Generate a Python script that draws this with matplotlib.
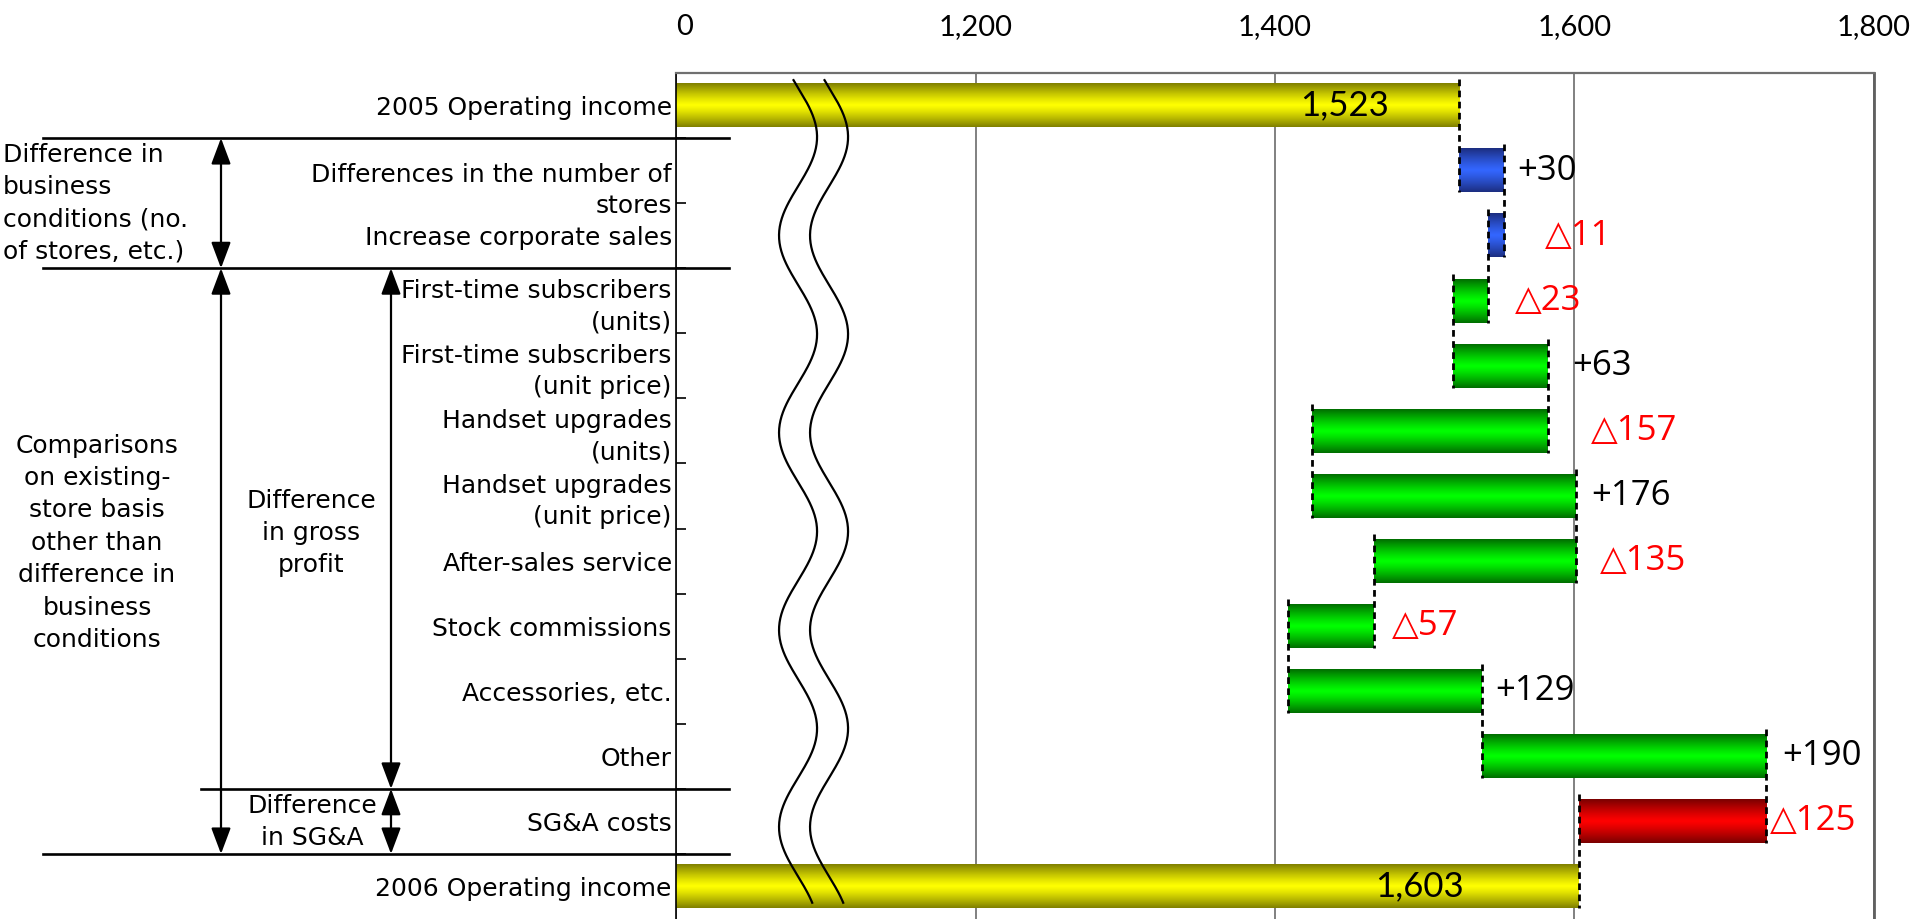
import numpy as np
import matplotlib
matplotlib.use("Agg")
import matplotlib.pyplot as plt
from matplotlib import transforms
from matplotlib.lines import Line2D
from matplotlib.patches import FancyArrowPatch
from matplotlib.colors import to_rgb

# ---------------- data ----------------
categories = [
    "2005 Operating income",
    "Differences in the number of\nstores",
    "Increase corporate sales",
    "First-time subscribers\n(units)",
    "First-time subscribers\n(unit price)",
    "Handset upgrades\n(units)",
    "Handset upgrades\n(unit price)",
    "After-sales service",
    "Stock commissions",
    "Accessories, etc.",
    "Other",
    "SG&A costs",
    "2006 Operating income",
]
start_total = 1523
end_total = 1603
deltas = [30, -11, -23, 63, -157, 176, -135, -57, 129, 190, -125]
delta_groups = ["business", "business", "gross", "gross", "gross", "gross",
                "gross", "gross", "gross", "gross", "sga"]
x_ticks = [1000, 1200, 1400, 1600, 1800]
x_tick_labels = ["0", "1,200", "1,400", "1,600", "1,800"]

# ---------------- style ----------------
W, H = 1911, 919
group_colors = {  # (center, edge)
    "total": ("#ffff00", "#808000"),
    "business": ("#3366ff", "#1c2e80"),
    "gross": ("#00ff00", "#006e00"),
    "sga": ("#ff0000", "#7a0000"),
}
label_gap_px = [13, 41, 27, 25, 43, 15, 24, 18, 14, 16, 4]
total_gap_px = [70, 115]

TEXT_FONT = ["DejaVu Sans"]
NUM_FONT = ["Lato", "DejaVu Sans"]
VAL_FONT = ["Open Sans", "DejaVu Sans"]
TXT_SIZE = 18
LSP_CAT = 1.36
LSP_ANN = 1.44

fig = plt.figure(figsize=(W / 100, H / 100), dpi=100)
ax = fig.add_axes([676 / W, 0, (1874 - 676) / W, 846 / H])

bar_h = 0.67
n = len(categories)
y = np.arange(n)

# compute bar geometry from the values
running = [start_total]
for d in deltas:
    running.append(running[-1] + d)
lefts = [0]
widths = [start_total]
groups = ["total"]
for i, d in enumerate(deltas):
    lefts.append(min(running[i], running[i + 1]))
    widths.append(abs(d))
    groups.append(delta_groups[i])
lefts.append(0)
widths.append(end_total)
groups.append("total")

bars = ax.barh(y, widths, left=lefts, height=bar_h,
               color=[group_colors[g][0] for g in groups],
               edgecolor="none", zorder=2)


def grad(center, edge, n=96):
    c = np.array(to_rgb(center))
    e = np.array(to_rgb(edge))
    t = np.abs(np.linspace(-1, 1, n))
    w = t ** 1.2
    return (c[None, :] * (1 - w[:, None]) + e[None, :] * w[:, None])[:, None, :]


for p, g in zip(bars.patches, groups):
    x0, y0, bw, bh = p.get_x(), p.get_y(), p.get_width(), p.get_height()
    ax.imshow(grad(*group_colors[g]), extent=(x0, x0 + bw, y0 + bh, y0),
              aspect="auto", interpolation="bilinear", zorder=2.1)

# dashed connectors between consecutive bars
for i in range(n - 1):
    ax.vlines(running[i] if i < len(running) else end_total,
              i - bar_h / 2 - 0.08, i + 1 + bar_h / 2,
              colors="black", linestyles=(0, (2.4, 1.6)), lw=2.0, zorder=3)

# value labels
for i, d in enumerate(deltas):
    end = max(running[i], running[i + 1])
    if d >= 0:
        txt, col = f"+{d}", "black"
    else:
        txt, col = f"\u25b3{abs(d)}", "#ff0000"
    ax.annotate(txt, xy=(end, i + 1), xytext=(label_gap_px[i] * 0.72, 0),
                textcoords="offset points", ha="left", va="center",
                fontsize=25, color=col, family=VAL_FONT, zorder=4)

for k, (row, val) in enumerate([(0, start_total), (n - 1, end_total)]):
    ax.annotate(f"{val:,}", xy=(val, row), xytext=(-total_gap_px[k] * 0.72, 0),
                textcoords="offset points", ha="right", va="center",
                fontsize=25, color="black", family=NUM_FONT, zorder=4)

# axis break marks (wavy double line)
yy = np.linspace(-0.39, 12.25, 400)
xc, amp, per, ypk, off = 1081.5, 12.7, 3.03, 0.483, 20.7
wave = xc + amp * np.cos(2 * np.pi * (yy - ypk) / per)
ax.plot(wave, yy, color="black", lw=1.6, zorder=5)
ax.plot(wave + off, yy, color="black", lw=1.6, zorder=5)

# axes styling
ax.set_xlim(x_ticks[0], x_ticks[-1])
ax.set_ylim(n - 0.5, -0.5)
ax.xaxis.tick_top()
ax.set_xticks(x_ticks)
ax.set_xticklabels(x_tick_labels, family=NUM_FONT, fontsize=21)
ax.tick_params(axis="x", length=0, pad=24)
ax.set_yticks(y)
ax.set_yticklabels(categories, family=TEXT_FONT, fontsize=TXT_SIZE, linespacing=LSP_CAT)
ax.tick_params(axis="y", which="major", length=0, pad=3)
ax.set_yticks(np.arange(0.5, n - 1, 1), minor=True)
ax.tick_params(axis="y", which="minor", direction="in", length=7, width=1.2, color="black")
ax.grid(axis="x", color="#808080", lw=1.4, zorder=0)
ax.set_axisbelow(True)
ax.spines["bottom"].set_visible(False)
ax.spines["left"].set_color("black")
ax.spines["left"].set_linewidth(1.2)
ax.spines["top"].set_color("#707070")
ax.spines["top"].set_linewidth(1.6)
ax.spines["right"].set_color("#606060")
ax.spines["right"].set_linewidth(2)

# the long wrapped label sits a little lower in the original
lbl = ax.get_yticklabels()[1]
lbl.set_transform(lbl.get_transform() +
                  transforms.ScaledTranslation(0, -0.14, fig.dpi_scale_trans))
# the "0" label sits slightly right of the axis start
zl = ax.get_xticklabels()[0]
zl.set_transform(zl.get_transform() +
                 transforms.ScaledTranslation(0.09, 0, fig.dpi_scale_trans))

# ---------------- left annotations ----------------
px = transforms.Affine2D().scale(1 / W, 1 / H) + fig.transFigure
blend = transforms.blended_transform_factory(px, ax.transData)

for (x0, x1, yb) in [(43, 729, 0.5), (43, 729, 2.5), (201, 729, 10.5), (43, 729, 11.5)]:
    fig.add_artist(Line2D([x0, x1], [yb, yb], transform=blend, color="black",
                          lw=1.9, clip_on=False, zorder=6))

for (xa, ya, yb) in [(221, 0.5, 2.5), (221, 2.5, 11.5), (391, 2.5, 10.5), (391, 10.5, 11.5)]:
    fig.add_artist(FancyArrowPatch((xa, ya), (xa, yb), transform=blend,
                                   arrowstyle="<|-|>,head_length=0.8,head_width=0.3",
                                   mutation_scale=20, lw=1.6, color="black",
                                   shrinkA=0, shrinkB=0, clip_on=False, zorder=6))

fig.text(3, 1.5, "Difference in\nbusiness\nconditions (no.\nof stores, etc.)",
         transform=blend, ha="left", va="center", fontsize=TXT_SIZE, family=TEXT_FONT,
         linespacing=LSP_ANN)
fig.text(97, 6.72, "Comparisons\non existing-\nstore basis\nother than\ndifference in\nbusiness\nconditions",
         transform=blend, ha="center", va="center", fontsize=TXT_SIZE, family=TEXT_FONT,
         linespacing=LSP_ANN, multialignment="center")
fig.text(311, 6.57, "Difference\nin gross\nprofit",
         transform=blend, ha="center", va="center", fontsize=TXT_SIZE, family=TEXT_FONT,
         linespacing=LSP_ANN, multialignment="center")
fig.text(312, 11.01, "Difference\nin SG&A",
         transform=blend, ha="center", va="center", fontsize=TXT_SIZE, family=TEXT_FONT,
         linespacing=LSP_ANN, multialignment="center")

fig.savefig("out.png", dpi=100)
